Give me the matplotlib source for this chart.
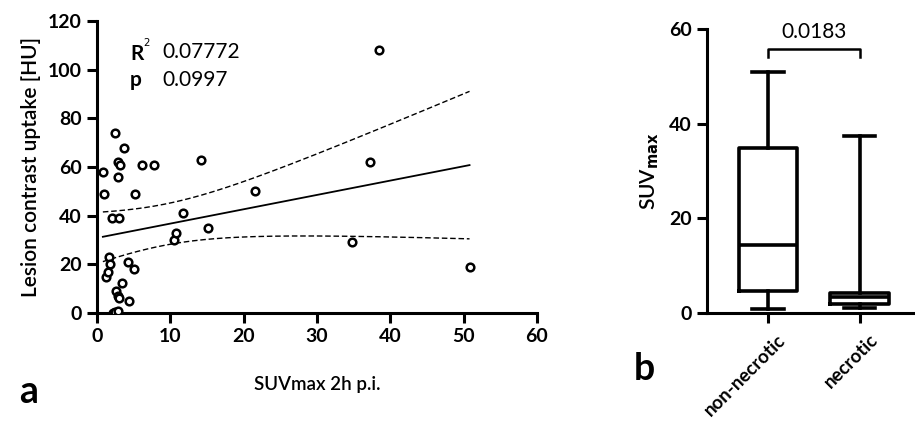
import numpy as np
import matplotlib.pyplot as plt
import matplotlib.transforms as mtransforms

plt.rcParams['font.family'] = ['Lato', 'DejaVu Sans']

# panel a: SUVmax vs lesion contrast uptake
suv = np.array([0.8, 1.0, 1.2, 1.5, 1.6, 1.8, 2.0, 2.2, 2.4, 2.5, 2.6, 2.8, 2.8, 2.8,
                2.9, 3.0, 3.0, 3.1, 3.4, 3.7, 4.2, 4.3, 5.0, 5.2, 6.1, 7.8, 10.5,
                10.8, 11.7, 14.2, 15.2, 21.5, 34.8, 37.2, 38.5, 50.8])
uptake = np.array([58, 49, 15, 17, 23, 20, 39, 0, 0.5, 74, 9, 62, 7, 1,
                   56, 39, 6, 61, 12.5, 68, 21, 5, 18, 49, 61, 61, 30,
                   33, 41, 63, 35, 50, 29, 62, 108, 19])
r2_text = '0.07772'
p_text = '0.0997'

# panel b: box plot stats
groups = ['non-necrotic', 'necrotic']
whislo = [0.8, 1.1]
q1 = [4.6, 2.0]
med = [14.3, 3.3]
q3 = [34.8, 4.2]
whishi = [51.0, 37.3]
p_box = '0.0183'

fig = plt.figure(figsize=(9.15, 4.21), dpi=100)

# ---- a ----
ax = fig.add_axes([97/915, 1-313/421, 440/915, 292/421])
ax.plot(suv, uptake, 'o', ms=5.5, mfc='white', mec='black', mew=1.8, zorder=3)

# linear fit + 95% CI
n = len(suv)
slope, icpt = np.polyfit(suv, uptake, 1)
xx = np.linspace(suv.min(), suv.max(), 200)
yy = icpt + slope*xx
resid = uptake - (icpt + slope*suv)
s = np.sqrt(np.sum(resid**2)/(n-2))
sxx = np.sum((suv - suv.mean())**2)
se = s*np.sqrt(1/n + (xx - suv.mean())**2/sxx)
t = 2.032  # t(0.975, df=34)
ax.plot(xx, yy, color='black', lw=1.3)
ax.plot(xx, yy + t*se, color='black', lw=1.0, ls=(0, (4, 2)))
ax.plot(xx, yy - t*se, color='black', lw=1.0, ls=(0, (4, 2)))

ax.set_xlim(0, 60)
ax.set_ylim(0, 120)
ax.set_xticks(range(0, 61, 10))
ax.set_yticks(range(0, 121, 20))
for sp in ['top', 'right']:
    ax.spines[sp].set_visible(False)
for sp in ['left', 'bottom']:
    ax.spines[sp].set_linewidth(2.2)
ax.tick_params(width=2.2, length=7, labelsize=14, pad=4)
for lab in ax.get_xticklabels() + ax.get_yticklabels():
    lab.set_fontweight('bold')
ax.set_ylabel('Lesion contrast uptake [HU]', fontsize=15, fontweight='semibold', labelpad=5)
ax.set_xlabel('SUVmax 2h p.i.', fontsize=13.5, fontweight='semibold', labelpad=22)

fig.text(130/915, 1-52/421, r'R$^{^2}$', fontsize=15, fontweight='bold', va='center')
fig.text(162/915, 1-52/421, r2_text, fontsize=15, va='center')
fig.text(130/915, 1-80/421, 'p', fontsize=15, fontweight='bold', va='center')
fig.text(162/915, 1-80/421, p_text, fontsize=15, va='center')
fig.text(19/915, 1-403/421, 'a', fontsize=27, fontweight='bold', va='baseline')

# ---- b ----
bx = fig.add_axes([707/915, 1-313/421, 208/915, 284/421])
stats = [dict(whislo=whislo[i], q1=q1[i], med=med[i], q3=q3[i], whishi=whishi[i],
              label=groups[i]) for i in range(2)]
lw = 2.6
bx.bxp(stats, positions=[1, 2], widths=0.64, showfliers=False,
       boxprops=dict(lw=lw), medianprops=dict(lw=lw, color='black'),
       whiskerprops=dict(lw=lw), capprops=dict(lw=lw), capwidths=0.34)
bx.set_xlim(0.337, 2.6)
bx.set_ylim(0, 60)
bx.set_yticks([0, 20, 40, 60])
for sp in ['top', 'right']:
    bx.spines[sp].set_visible(False)
for sp in ['left', 'bottom']:
    bx.spines[sp].set_linewidth(2.2)
bx.tick_params(width=2.2, length=7, labelsize=14, pad=4)
for lab in bx.get_yticklabels():
    lab.set_fontweight('bold')
bx.set_xticks([1, 2])
bx.set_xticklabels(groups, rotation=45, ha='right', rotation_mode='anchor',
                   fontsize=13.5, fontweight='bold')
shift = mtransforms.ScaledTranslation(9/100, -3/100, fig.dpi_scale_trans)
for lab in bx.get_xticklabels():
    lab.set_transform(lab.get_transform() + shift)
bx.set_ylabel(r'SUV$_{\mathbf{max}}$', fontsize=15, fontweight='semibold')
bx.yaxis.set_label_coords(-0.22, 0.5)

yb = 55.8
bx.plot([1, 1, 2, 2], [yb-1.7, yb, yb, yb-1.7], color='black', lw=1.8, clip_on=False)
bx.text(1.5, yb+1.5, p_box, ha='center', va='bottom', fontsize=15)
fig.text(634/915, 1-380/421, 'b', fontsize=27, fontweight='bold', va='baseline')

fig.savefig('out.png', dpi=100)
